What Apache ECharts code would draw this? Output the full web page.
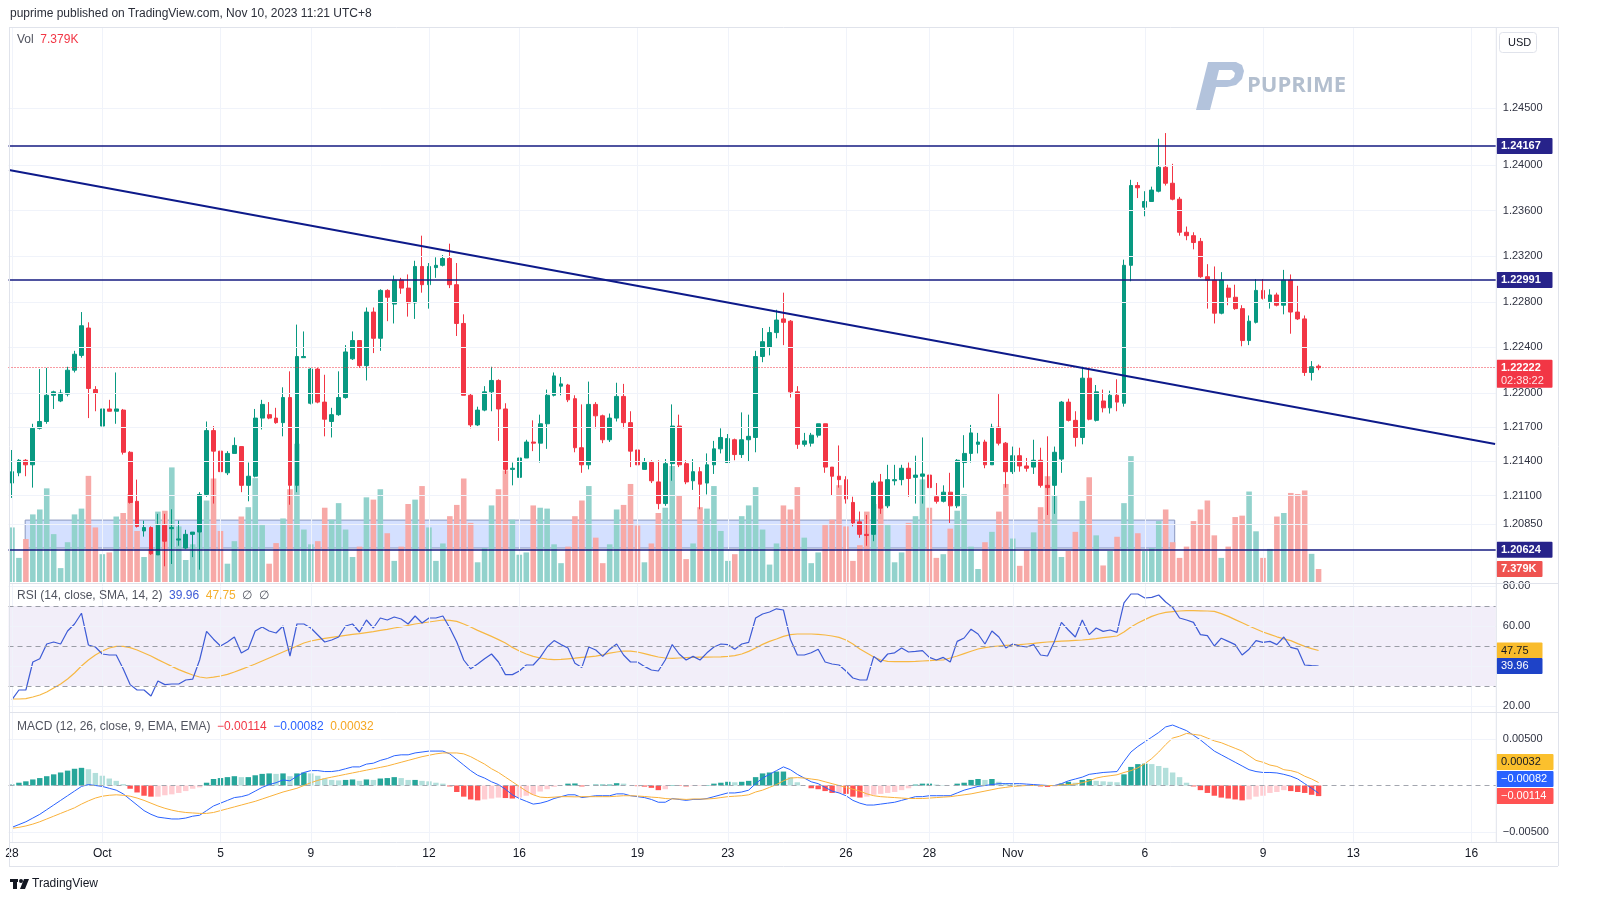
<!DOCTYPE html>
<html><head><meta charset="utf-8">
<script src="https://cdn.jsdelivr.net/npm/echarts@6/dist/echarts.min.js"></script>
<style>html,body{margin:0;padding:0;background:#fff;}#c{width:1600px;height:919px;}</style>
</head><body><div id="c"></div>
<script>
// ---------- data ----------
// 4h candles: [open, close, low, high]
const candles = [
[1.2121,1.2131,1.2108,1.2150],[1.2130,1.2141,1.2127,1.2142],[1.2141,1.2137,1.2127,1.2142],[1.2137,1.2169,1.2117,1.2173],[1.2169,1.2175,1.2168,1.2221],
[1.2175,1.2198,1.2173,1.2222],[1.2198,1.2201,1.2186,1.2202],[1.2193,1.2200,1.2192,1.2203],[1.2199,1.2220,1.2197,1.2223],[1.2220,1.2234,1.2218,1.2237],
[1.2233,1.2259,1.2231,1.2271],[1.2257,1.2204,1.2178,1.2262],[1.2203,1.2200,1.2184,1.2206],[1.2171,1.2186,1.2171,1.2204],[1.2186,1.2184,1.2184,1.2194],
[1.2184,1.2186,1.2173,1.2218],[1.2185,1.2148,1.2146,1.2186],[1.2148,1.2104,1.2103,1.2149],[1.2105,1.2083,1.2082,1.2124],[1.2079,1.2082,1.2074,1.2088],
[1.2082,1.2059,1.2058,1.2083],[1.2058,1.2084,1.2058,1.2094],[1.2084,1.2070,1.2048,1.2094],[1.2081,1.2082,1.2050,1.2098],[1.2071,1.2072,1.2066,1.2088],
[1.2064,1.2076,1.2063,1.2080],[1.2076,1.2078,1.2056,1.2078],[1.2078,1.2111,1.2045,1.2113],[1.2111,1.2167,1.2109,1.2175],[1.2167,1.2149,1.2103,1.2171],
[1.2149,1.2131,1.2128,1.2154],[1.2130,1.2147,1.2128,1.2149],[1.2147,1.2154,1.2147,1.2161],[1.2153,1.2119,1.2113,1.2153],[1.2119,1.2127,1.2105,1.2139],
[1.2127,1.2178,1.2126,1.2186],[1.2178,1.2190,1.2168,1.2194],[1.2181,1.2178,1.2177,1.2192],[1.2178,1.2174,1.2173,1.2187],[1.2174,1.2196,1.2162,1.2205],
[1.2196,1.2119,1.2102,1.2219],[1.2119,1.2232,1.2113,1.2260],[1.2231,1.2232,1.2231,1.2254],[1.2191,1.2221,1.2190,1.2222],[1.2221,1.2192,1.2191,1.2222],
[1.2192,1.2177,1.2162,1.2216],[1.2175,1.2181,1.2161,1.2187],[1.2181,1.2196,1.2180,1.2219],[1.2196,1.2236,1.2195,1.2242],[1.2230,1.2246,1.2229,1.2254],
[1.2246,1.2224,1.2222,1.2246],[1.2224,1.2271,1.2211,1.2275],[1.2271,1.2248,1.2235,1.2275],[1.2248,1.2290,1.2237,1.2291],[1.2290,1.2284,1.2263,1.2291],
[1.2278,1.2299,1.2261,1.2303],[1.2299,1.2292,1.2287,1.2301],[1.2292,1.2279,1.2267,1.2304],[1.2279,1.2311,1.2265,1.2316],[1.2311,1.2295,1.2288,1.2338],
[1.2295,1.2311,1.2274,1.2314],[1.2310,1.2312,1.2301,1.2319],[1.2312,1.2318,1.2311,1.2321],[1.2318,1.2295,1.2292,1.2331],[1.2295,1.2261,1.2250,1.2314],
[1.2261,1.2198,1.2198,1.2269],[1.2198,1.2172,1.2169,1.2200],[1.2172,1.2185,1.2171,1.2188],[1.2185,1.2201,1.2184,1.2206],[1.2201,1.2211,1.2184,1.2223],
[1.2211,1.2186,1.2158,1.2212],[1.2186,1.2133,1.2129,1.2191],[1.2133,1.2134,1.2119,1.2139],[1.2126,1.2143,1.2120,1.2155],[1.2143,1.2157,1.2143,1.2159],
[1.2157,1.2156,1.2149,1.2176],[1.2156,1.2173,1.2139,1.2181],[1.2173,1.2198,1.2151,1.2203],[1.2198,1.2215,1.2197,1.2218],[1.2206,1.2208,1.2198,1.2214],
[1.2207,1.2194,1.2192,1.2208],[1.2195,1.2152,1.2148,1.2198],[1.2152,1.2137,1.2130,1.2190],[1.2137,1.2190,1.2133,1.2210],[1.2190,1.2180,1.2169,1.2192],
[1.2180,1.2159,1.2156,1.2181],[1.2159,1.2178,1.2157,1.2182],[1.2178,1.2197,1.2175,1.2209],[1.2197,1.2174,1.2169,1.2208],[1.2174,1.2149,1.2135,1.2184],
[1.2150,1.2137,1.2134,1.2174],[1.2133,1.2139,1.2133,1.2143],[1.2139,1.2123,1.2121,1.2141],[1.2122,1.2103,1.2098,1.2141],[1.2103,1.2138,1.2101,1.2142],
[1.2138,1.2171,1.2123,1.2190],[1.2171,1.2137,1.2135,1.2181],[1.2138,1.2122,1.2120,1.2141],[1.2123,1.2131,1.2115,1.2142],[1.2131,1.2120,1.2098,1.2135],
[1.2121,1.2137,1.2111,1.2147],[1.2137,1.2151,1.2129,1.2158],[1.2151,1.2161,1.2147,1.2169],[1.2139,1.2160,1.2139,1.2164],[1.2159,1.2146,1.2141,1.2160],
[1.2146,1.2159,1.2143,1.2183],[1.2159,1.2162,1.2140,1.2181],[1.2161,1.2232,1.2148,1.2237],[1.2232,1.2245,1.2227,1.2257],[1.2240,1.2253,1.2233,1.2258],
[1.2253,1.2264,1.2248,1.2273],[1.2265,1.2262,1.2242,1.2288],[1.2263,1.2201,1.2196,1.2264],[1.2201,1.2155,1.2151,1.2206],[1.2155,1.2158,1.2153,1.2165],
[1.2156,1.2163,1.2153,1.2165],[1.2163,1.2173,1.2161,1.2173],[1.2173,1.2135,1.2130,1.2173],[1.2135,1.2127,1.2110,1.2135],[1.2127,1.2124,1.2117,1.2154],
[1.2124,1.2107,1.2103,1.2127],[1.2104,1.2086,1.2083,1.2109],[1.2087,1.2076,1.2073,1.2096],[1.2076,1.2075,1.2066,1.2093],[1.2076,1.2121,1.2070,1.2123],
[1.2122,1.2099,1.2094,1.2129],[1.2101,1.2124,1.2099,1.2137],[1.2123,1.2124,1.2119,1.2137],[1.2124,1.2134,1.2119,1.2137],[1.2134,1.2125,1.2109,1.2139],
[1.2126,1.2128,1.2103,1.2145],[1.2127,1.2129,1.2103,1.2161],[1.2128,1.2117,1.2107,1.2129],[1.2109,1.2105,1.2103,1.2121],[1.2105,1.2113,1.2104,1.2119],
[1.2113,1.2101,1.2086,1.2130],[1.2101,1.2141,1.2099,1.2142],[1.2139,1.2147,1.2117,1.2163],[1.2147,1.2165,1.2139,1.2172],[1.2155,1.2157,1.2147,1.2165],
[1.2157,1.2137,1.2134,1.2159],[1.2137,1.2170,1.2137,1.2173],[1.2170,1.2156,1.2154,1.2199],[1.2156,1.2131,1.2117,1.2157],[1.2131,1.2145,1.2129,1.2153],
[1.2145,1.2136,1.2131,1.2152],[1.2136,1.2134,1.2131,1.2143],[1.2135,1.2141,1.2129,1.2159],[1.2141,1.2119,1.2117,1.2152],[1.2119,1.2117,1.2093,1.2162],
[1.2119,1.2148,1.2094,1.2153],[1.2142,1.2192,1.2130,1.2193],[1.2192,1.2176,1.2175,1.2195],[1.2176,1.2161,1.2153,1.2184],[1.2161,1.2213,1.2155,1.2223],
[1.2213,1.2177,1.2176,1.2221],[1.2176,1.2201,1.2175,1.2207],[1.2193,1.2187,1.2183,1.2203],[1.2187,1.2198,1.2182,1.2202],[1.2198,1.2192,1.2184,1.2212],
[1.2191,1.2312,1.2188,1.2317],[1.2312,1.2382,1.2298,1.2387],[1.2382,1.2380,1.2371,1.2385],[1.2363,1.2368,1.2355,1.2377],[1.2368,1.2378,1.2368,1.2381],
[1.2377,1.2398,1.2376,1.2423],[1.2398,1.2384,1.2382,1.2428],[1.2384,1.2370,1.2369,1.2401],[1.2370,1.2341,1.2338,1.2372],[1.2341,1.2338,1.2334,1.2346],
[1.2338,1.2332,1.2326,1.2341],[1.2333,1.2302,1.2301,1.2336],[1.2302,1.2299,1.2274,1.2313],[1.2299,1.2270,1.2261,1.2311],[1.2270,1.2299,1.2269,1.2306],
[1.2292,1.2284,1.2277,1.2295],[1.2284,1.2274,1.2273,1.2295],[1.2274,1.2246,1.2241,1.2277],[1.2246,1.2263,1.2242,1.2268],[1.2262,1.2290,1.2261,1.2300],
[1.2290,1.2283,1.2282,1.2300],[1.2280,1.2286,1.2274,1.2291],[1.2286,1.2277,1.2276,1.2288],[1.2277,1.2299,1.2269,1.2308],[1.2299,1.2271,1.2252,1.2304],
[1.2271,1.2265,1.2264,1.2294],[1.2265,1.2218,1.2215,1.2268],[1.2218,1.2223,1.2211,1.2228],[1.22235,1.22222,1.2220,1.2225]
];
// volume, thousands
const volumes = [
31.0,13.7,24.4,38.4,41.2,53.2,27.2,7.9,22.6,38.4,41.7,60.3,31.0,15.8,16.8,37.2,39.2,50.1,29.0,14.2,18.8,40.0,40.5,65.1,31.6,12.5,21.4,28.2,46.3,58.8,29.0,
10.4,23.2,37.2,42.5,59.0,32.3,10.4,22.1,36.1,52.7,78.6,29.8,21.4,23.2,42.2,35.4,44.8,29.8,14.2,20.1,48.1,46.8,52.7,27.7,12.0,20.1,44.3,46.8,54.5,31.0,12.0,
21.9,37.4,43.8,58.8,33.6,11.2,19.3,43.5,52.7,63.4,35.4,15.5,16.8,43.5,42.2,41.7,21.4,10.7,20.1,37.4,46.3,54.5,25.2,10.7,21.4,41.2,43.8,55.7,32.1,11.2,21.9,
39.2,42.2,65.9,49.4,13.0,21.9,42.5,41.7,54.5,29.0,12.0,15.8,37.4,43.5,53.9,29.8,9.9,21.9,43.5,41.2,53.9,25.2,10.7,16.8,32.3,35.4,55.0,31.6,12.0,20.9,40.0,
44.3,43.5,32.3,11.2,16.8,33.6,37.4,58.3,42.2,13.7,15.8,30.3,40.5,49.9,20.1,7.4,22.6,28.5,40.0,55.7,24.7,9.2,18.1,28.2,42.5,60.1,48.9,14.2,17.6,28.5,46.1,
59.5,26.5,9.4,17.6,25.7,44.8,71.5,27.7,17.6,19.3,34.6,41.2,22.6,13.7,20.1,34.6,41.2,46.3,26.5,13.7,20.1,36.9,37.7,51.4,28.8,13.7,18.8,37.2,39.2,50.6,50.0,52.0,16.0,7.379
];
const rsiValues = [
23.2,28,28,42,43.6,51,52,51,57.5,61,66.4,50.5,49.5,46,45.5,45.5,38.6,30.7,28,28,25,32.5,30.7,31,31,33,33.4,43,57.3,53.4,50,
52,54.5,46.5,48.5,57.5,59.5,57.5,56.5,60,45,61,61,59,55.5,52,53,54.5,60,61,57,63,59,64,63,64.5,63.5,61,65,61.5,64,64,65,
59,52,43,38.6,41,43.6,46,42,35.7,35.7,37.5,40.5,40.5,44.3,49.5,52.7,50.7,49,41.4,39.3,49.5,48,44.8,48.4,51,45.5,42,42,39.8,38,
37.5,43,50.7,46,43,44.8,43,46.6,49.5,51,50.7,48.4,51,51.8,64,66,67,68.6,68,53.4,45.5,45.5,46.6,48.4,42,41,40.5,37.5,34,33,33,
44.8,42,46,46.6,49,47,47.3,47.7,44.3,43,44.3,42,52.3,54,58.4,56,51,57.5,54.5,49,51,50,49.5,50.7,45.5,45,52.3,61.8,58,54.5,63,
55.7,59,57.3,58,56.8,71.6,76,76,74,74.3,75.5,72,69.3,64,63,61.8,55.7,55.2,50,53.9,52.3,50.7,45.5,48.4,52.7,51.8,52.3,50.7,54.5,49.3,48.4,40.5,40.2,39.96
];
const rsiSma = [
23.5,23.5,23.7,24.5,25.5,27,29,31,33.5,36.5,40,43,45.5,47.5,49,49.8,49.8,49.2,48,46.5,45,43.2,41.5,39.8,38.2,36.8,35.5,34.5,34,34.4,35,
35.8,37,38.3,39.6,41,42.5,44,45.5,47,48.5,50,51.5,52.5,53.2,53.8,54.3,54.8,55.3,55.8,56.2,56.7,57.2,57.8,58.3,59,59.6,60.3,61,61.5,62,62.5,63,
62.8,62.3,61,59.5,57.8,56.3,54.8,53.2,51.5,49.3,47.5,46,44.8,44,43.4,43.2,43.3,43.6,43.9,44.3,44.6,44.9,45.6,46.4,47,47.5,47.4,47,46.2,45.3,
44.5,44,43.8,44,44.2,44.3,44.4,44.4,44.5,44.6,44.8,45.2,46,47.3,49,50.8,52.3,53.5,54.8,55.7,56,56,56,55.8,55.5,55,54.3,53,51,48.5,46.5,
44.5,43,42.3,42.2,42.2,42.2,42.3,42.5,42.7,42.9,43,44,45,46.2,47.4,48.5,49.2,49.7,50,50.3,50.5,50.7,51,51.3,51.7,52,52.2,52.4,52.6,52.8,53,
53.3,53.7,54.2,54.6,55,57,59.5,61.5,63.2,64.8,66,66.8,67.2,67.5,67.7,67.7,67.6,67.5,67.3,66.2,64.8,63.2,61.6,60,58.5,57,55.8,54.6,53.6,52.7,51.2,49.8,48.7,47.75
];
// MACD values in units of 0.0001
const macdLine = [
-45,-42,-39,-35,-31,-26,-21,-16,-11,-6,-1,1,0,-1,-3,-5,-9,-15,-21,-27,-31,-34,-35,-36,-36,-35,-33,-32,-27,-22,-19,
-16,-13,-12,-10,-6,-2,1,3,6,5,10,14,16,16,15,15,16,18,20,20,23,24,27,29,32,33,33,35,36,37,37,
37,34,28,22,16,11,8,4,1,-4,-10,-14,-17,-20,-19,-17,-14,-12,-10,-10,-13,-12,-11,-11,-11,-9,-9,-11,-12,-13,-15,
-18,-18,-14,-15,-16,-15,-15,-14,-12,-10,-8,-8,-7,-5,2,8,12,16,20,17,12,8,4,2,-2,-6,-8,-11,-16,-19,-21,
-21,-20,-19,-18,-16,-14,-12,-12,-11,-11,-11,-11,-8,-5,-3,-1,0,1,2,2,2,2,1.5,1,0.5,0,0,2,5,7,9,
12,13,14,14.5,15,26,36,42,47,52,57,63,65,62,59,54,49,43,37,33,29,25,21,17,15,14,14,13.5,12,10,7,2,-3,-8.2
];
const macdSignal = [
-46,-45,-43.5,-41.5,-39,-36,-33,-30,-27,-24,-20,-16.5,-13.5,-11.5,-10.5,-10,-10.5,-11.5,-13.5,-16,-19,-22,-24.5,-26.5,-28,-29,-29.5,-30,-30,-29,-27,
-25,-23,-21,-19,-17,-14.5,-12,-9.5,-7,-5,-3,0,3,5.5,7.5,9,10.5,12,13.5,15,16.5,18,19.5,21,23,25,27,29,31,32.5,34,
35,35,35,34,31,27,23,18,14,9,4,-1,-6,-10,-12.5,-13,-12.5,-12,-12,-12.2,-12,-12,-12,-12,-12,-11.5,-11,-11,-11.3,-11.8,-12.5,
-13,-14,-14.5,-14.5,-15,-14.5,-14.5,-14.5,-14,-13,-12,-11.5,-11,-10,-7,-5,-2,1,5,8,8.5,8,7,6,4,2,0,-2,-4,-6,-9,
-11,-12,-12.5,-13,-13.5,-14,-14,-14,-13.5,-13,-12.5,-12,-11,-10,-9,-7.5,-6,-4.5,-3,-2,-1,-0.5,0,0,0,0,0,0.5,1,1.5,3,
5,8,9.5,10.5,11.5,14,16,19,23.5,29,36,44,51,53,56,55,54,51,48,46,43,40,37,32,27,25,22,20.5,17,16,14,10,7,3.2
];
const macdHist = [
1,3,4.5,6.5,8,10,12,14,16,18,19,17.5,13.5,10.5,7.5,5,1.5,-3.5,-7.5,-11,-12,-12,-10.5,-9.5,-8,-6,-3.5,-2,3,7,8,
9,10,9,9,11,12.5,13,12.5,13,10,13,14,13,10.5,7.5,6,5.5,6,6.5,5,6.5,6,7.5,8,9,8,6,6,5,4.5,3,
2,-1,-7,-12,-15,-16,-15,-14,-13,-13.5,-14,-13,-11,-10,-6.5,-4,-1.5,0,2,2.2,-1,0,1,1,1,2.5,2,0,-0.7,-1.2,-2.5,
-5,-4,0.5,-0.5,-1,-0.5,-0.5,0.5,2,3,4,3.5,4,5,9,13,14,15,15,9,3.5,0,-3,-4,-6,-8,-8,-9,-12,-13,-12,
-10,-9,-8,-7,-5,-3,1,2,2,1,0.5,0,2,3,6,7,6,7,4,2,1.5,0.5,0,0,-1,-1.5,-1,2,4,3,6,
7,5,4.5,4,3.5,12,20,23,23.5,23,21,19,14,9,3,-1,-5,-8,-11,-13,-14,-15,-16,-15,-12,-11,-8,-7,-5,-6,-7,-8,-10,-11.4
];
// time-axis tick labels: [bar slot, text]
const dateTicks = [[0,'28'],[13,'Oct'],[30,'5'],[43,'9'],[60,'12'],[73,'16'],[90,'19'],[103,'23'],[120,'26'],[132,'28'],[144,'Nov'],[163,'6'],[180,'9'],[193,'13'],[210,'16']];
const priceTicks = [1.245,1.240,1.236,1.232,1.228,1.224,1.220,1.217,1.214,1.211,1.2085];
const rsiTicks = [20,60,80];
const rsiGrid = [20,40,60,80];
const rsiBands = [70,50,30];
const macdTicks = [50,-50];
const levelLines = [1.24167,1.22991,1.20624];
const lastPrice = 1.22222;
const countdown = '02:38:22';
const trendline = [[-0.43,1.23956],[213.4,1.21553]];
const zoneBox = [[1.9,1.20885],[167.3,1.2064]];
const SLOTS = 214;

// ---------- layout ----------
const FONT = '"Liberation Sans", Arial, sans-serif';
const L = 8.5, W = 1487.3, AX = L + W, FR = 1558;
const UP = '#089981', DN = '#f23645';
const GRIDC = '#f0f3fa';
const cats = Array.from({length: SLOTS}, (_, i) => String(i));
const labelMap = new Map(dateTicks);
const last = candles.length - 1;

const chart = echarts.init(document.getElementById('c'), null, {width:1600, height:919});

const vGrid = dateTicks.map(d => ({xAxis: d[0]}));
function gridLines(xi, yi, hv) {
  return {type:'line', xAxisIndex:xi, yAxisIndex:yi, data:[], z:1, silent:true,
    markLine:{silent:true, symbol:'none', precision:6, animation:false, label:{show:false},
      lineStyle:{color:GRIDC, width:1, type:'solid'},
      data:[...hv.map(v => ({yAxis:v})), ...vGrid]}};
}
const histColors = macdHist.map((v, i) => {
  const p = i > 0 ? macdHist[i-1] : v;
  if (v >= 0) return v >= p ? '#26a69a' : '#b2dfdb';
  return v < p ? '#ff5252' : '#ffcdd2';
});

const hiddenCat = (g) => ({type:'category', gridIndex:g, data:cats, boundaryGap:true, show:false});

chart.setOption({
  animation:false,
  textStyle:{fontFamily:FONT},
  grid:[
    {left:L, top:27, width:W, height:555},
    {left:L, top:27, width:W, height:555},
    {left:L, top:584, width:W, height:128},
    {left:L, top:713, width:W, height:129}
  ],
  xAxis:[
    hiddenCat(0),
    {type:'value', gridIndex:0, min:-0.5, max:SLOTS-0.5, show:false},
    hiddenCat(1),
    hiddenCat(2),
    {type:'category', gridIndex:3, data:cats, boundaryGap:true,
      axisLine:{show:false}, axisTick:{show:false}, splitLine:{show:false},
      axisLabel:{interval:(i) => labelMap.has(i), formatter:(v, i) => labelMap.get(i) || '',
        color:'#131722', fontSize:12, margin:6, fontFamily:FONT}}
  ],
  yAxis:[
    {type:'value', gridIndex:0, position:'right', min:1.203421, max:1.252105,
      axisLine:{show:false}, axisTick:{show:false}, splitLine:{show:false},
      axisLabel:{customValues:priceTicks, formatter:v => v.toFixed(5), color:'#2f3241', fontSize:11, margin:7, fontFamily:FONT}},
    {type:'value', gridIndex:1, min:0, max:315.3, show:false},
    {type:'value', gridIndex:2, position:'right', min:17, max:81,
      axisLine:{show:false}, axisTick:{show:false}, splitLine:{show:false},
      axisLabel:{customValues:rsiTicks, formatter:v => v.toFixed(2), color:'#2f3241', fontSize:11, margin:7, fontFamily:FONT}},
    {type:'value', gridIndex:3, position:'right', min:-60.75, max:77.96,
      axisLine:{show:false}, axisTick:{show:false}, splitLine:{show:false},
      axisLabel:{customValues:macdTicks, formatter:v => (v/1e4).toFixed(5).replace('-', '\u2212'), color:'#2f3241', fontSize:11, margin:7, fontFamily:FONT}}
  ],
  series:[
    gridLines(0, 0, priceTicks),
    {type:'bar', xAxisIndex:2, yAxisIndex:1, barWidth:'80%', z:2, silent:true,
      data: volumes.map((v, i) => ({value:v, itemStyle:{color: candles[i][1] >= candles[i][0] ? '#92d2cc' : '#f7a9a7'}}))},
    {type:'candlestick', xAxisIndex:0, yAxisIndex:0, data:candles, barWidth:'62%', z:3,
      itemStyle:{color:UP, color0:DN, borderColor:UP, borderColor0:DN, borderWidth:1}},
    {type:'line', xAxisIndex:1, yAxisIndex:0, data:trendline, symbol:'none', z:5, silent:true,
      lineStyle:{color:'#0d1a8a', width:2},
      markArea:{silent:true, itemStyle:{color:'rgba(41,98,255,0.2)', borderColor:'#8a97bf', borderWidth:1},
        data:[[{coord:zoneBox[0]}, {coord:zoneBox[1]}]]},
      markLine:{silent:true, symbol:'none', precision:6, label:{show:false},
        data:[
          ...levelLines.map(v => ({yAxis:v, lineStyle:{color:'#141a80', width:1.6, type:'solid'}})),
          {yAxis:lastPrice, lineStyle:{color:DN, width:1, type:[1,2]}}
        ]}},
    // RSI
    gridLines(3, 2, rsiGrid),
    {type:'line', xAxisIndex:3, yAxisIndex:2, data:rsiValues, symbol:'none', z:4,
      lineStyle:{color:'#3d5bd6', width:1.2},
      markArea:{silent:true, itemStyle:{color:'rgba(126,87,194,0.1)'}, data:[[{yAxis:70}, {yAxis:30}]]},
      markLine:{silent:true, symbol:'none', precision:6, label:{show:false},
        lineStyle:{color:'#9a9da6', width:1, type:[5,4]}, data:rsiBands.map(v => ({yAxis:v}))}},
    {type:'line', xAxisIndex:3, yAxisIndex:2, data:rsiSma, symbol:'none', z:3,
      lineStyle:{color:'#f7b843', width:1.2}},
    // MACD
    gridLines(4, 3, macdTicks),
    {type:'bar', xAxisIndex:4, yAxisIndex:3, barWidth:'78%', z:2,
      data: macdHist.map((v, i) => ({value:v, itemStyle:{color:histColors[i]}})),
      markLine:{silent:true, symbol:'none', precision:6, label:{show:false},
        lineStyle:{color:'#a3a6af', width:1, type:[5,4]}, data:[{yAxis:0}]}},
    {type:'line', xAxisIndex:4, yAxisIndex:3, data:macdLine, symbol:'none', z:4,
      lineStyle:{color:'#2962ff', width:1}},
    {type:'line', xAxisIndex:4, yAxisIndex:3, data:macdSignal, symbol:'none', z:4,
      lineStyle:{color:'#f9b13a', width:1}}
  ]
});

// ---------- texts, frame and axis tags ----------
const yOf = (axis, v) => chart.convertToPixel({yAxisIndex:axis}, v);
function tag(cy, text, bg, fg, w, bold) {
  return {type:'group', z:100, children:[
    {type:'rect', shape:{x:1496.5, y:cy-8, width:w, height:16, r:1}, style:{fill:bg}},
    {type:'text', x:1501, y:cy, style:{text:text, fill:fg, font:(bold ? 'bold ' : '') + '11px ' + FONT, align:'left', verticalAlign:'middle'}}
  ]};
}
const hline = (y, x1, x2) => ({type:'line', z:90, shape:{x1:x1, y1:y, x2:x2, y2:y}, style:{stroke:'#e0e3eb', lineWidth:1}});
const vline = (x, y1, y2) => ({type:'line', z:90, shape:{x1:x, y1:y1, x2:x, y2:y2}, style:{stroke:'#e0e3eb', lineWidth:1}});

const fmtM = v => (v/1e4).toFixed(5).replace('-', '\u2212');
const volTxt = volumes[last].toFixed(3) + 'K';
const rsiTxt = rsiValues[last].toFixed(2), smaTxt = rsiSma[last].toFixed(2);
const hTxt = fmtM(macdHist[last]), mTxt = fmtM(macdLine[last]), sTxt = fmtM(macdSignal[last]);

const gfx = [
  {type:'text', x:10, y:14, style:{text:'puprime published on TradingView.com, Nov 10, 2023 11:21 UTC+8', fill:'#2a2e39', font:'12px ' + FONT, verticalAlign:'middle'}},
  hline(27.5, 9, FR), hline(866.5, 9, FR), vline(9.5, 27, 866), vline(FR + 0.5, 27, 866),
  hline(583.5, 9, FR), hline(712.5, 9, FR), hline(842.5, 9, FR), vline(AX + 0.5, 27, 842),
  {type:'rect', z:90, shape:{x:1499.5, y:32.5, width:37, height:20, r:3}, style:{fill:'#fff', stroke:'#e0e3eb', lineWidth:1}},
  {type:'text', z:91, x:1508, y:43, style:{text:'USD', fill:'#131722', font:'11px ' + FONT, verticalAlign:'middle'}},
  {type:'text', z:91, x:17, y:40, style:{text:'{a|Vol}  {b|' + volTxt + '}', verticalAlign:'middle',
    rich:{a:{fill:'#50535e', font:'12px ' + FONT}, b:{fill:DN, font:'12px ' + FONT}}}},
  {type:'text', z:91, x:17, y:596, style:{text:'{a|RSI (14, close, SMA, 14, 2)}  {b|' + rsiTxt + '}  {c|' + smaTxt + '}  {a|\u2205}  {a|\u2205}', verticalAlign:'middle',
    rich:{a:{fill:'#50535e', font:'12px ' + FONT}, b:{fill:'#3d5bd6', font:'12px ' + FONT}, c:{fill:'#f5b02e', font:'12px ' + FONT}}}},
  {type:'text', z:91, x:17, y:727, style:{text:'{a|MACD (12, 26, close, 9, EMA, EMA)}  {r|' + hTxt + '}  {b|' + mTxt + '}  {c|' + sTxt + '}', verticalAlign:'middle',
    rich:{a:{fill:'#50535e', font:'12px ' + FONT}, r:{fill:DN, font:'12px ' + FONT}, b:{fill:'#2962ff', font:'12px ' + FONT}, c:{fill:'#f5a623', font:'12px ' + FONT}}}},
  // watermark
  {type:'polygon', z:6, shape:{points:[[1208,62],[1236,62],[1242,65],[1244,71],[1242,79],[1236,85],[1227,87],[1216,87],[1210,110],[1196,110]]}, style:{fill:'#b3c3dc'}},
  {type:'polygon', z:7, shape:{points:[[1219,70],[1232,70],[1235,73],[1234,77],[1230,80],[1216.5,80]]}, style:{fill:'#ffffff'}},
  {type:'text', z:6, x:1247, y:86, style:{text:'PUPRIME', fill:'#b3bfcf', font:'bold 22px "Open Sans", ' + FONT, verticalAlign:'middle'}},
  // TradingView logo
  {type:'rect', shape:{x:10, y:879, width:8, height:3}, style:{fill:'#131722'}},
  {type:'rect', shape:{x:13, y:879, width:4, height:10}, style:{fill:'#131722'}},
  {type:'circle', shape:{cx:21, cy:881, r:2}, style:{fill:'#131722'}},
  {type:'polygon', shape:{points:[[24,879],[29,879],[25,889],[20,889]]}, style:{fill:'#131722'}},
  {type:'text', x:32, y:884, style:{text:'TradingView', fill:'#131722', font:'12px ' + FONT, verticalAlign:'middle'}}
];

// axis tags tied to values
levelLines.forEach(v => gfx.push(tag(yOf(0, v), v.toFixed(5), '#27238a', '#fff', 56, true)));
const yl = yOf(0, lastPrice);
gfx.push({type:'group', z:100, children:[
  {type:'rect', shape:{x:1496.5, y:yl-8, width:56, height:28, r:1}, style:{fill:DN}},
  {type:'text', x:1501, y:yl, style:{text:lastPrice.toFixed(5), fill:'#fff', font:'bold 11px ' + FONT, verticalAlign:'middle'}},
  {type:'text', x:1501, y:yl+13, style:{text:countdown, fill:'#ffe3e5', font:'11px ' + FONT, verticalAlign:'middle'}}
]});
gfx.push(tag(yOf(1, volumes[last]), volTxt, '#ef5350', '#fff', 46, true));
gfx.push(tag(yOf(2, rsiSma[last]), smaTxt, '#f9bc2c', '#131722', 46, false));
gfx.push(tag(yOf(2, rsiValues[last]), rsiTxt, '#1e43c8', '#fff', 46, false));
const yh = yOf(3, macdHist[last]);
gfx.push(tag(yh, hTxt, '#ff5252', '#fff', 57, false));
gfx.push(tag(yh - 17, mTxt, '#2962ff', '#fff', 57, false));
gfx.push(tag(yh - 34, sTxt, '#fbc02d', '#131722', 57, false));

chart.setOption({graphic:gfx});
</script>
</body></html>
